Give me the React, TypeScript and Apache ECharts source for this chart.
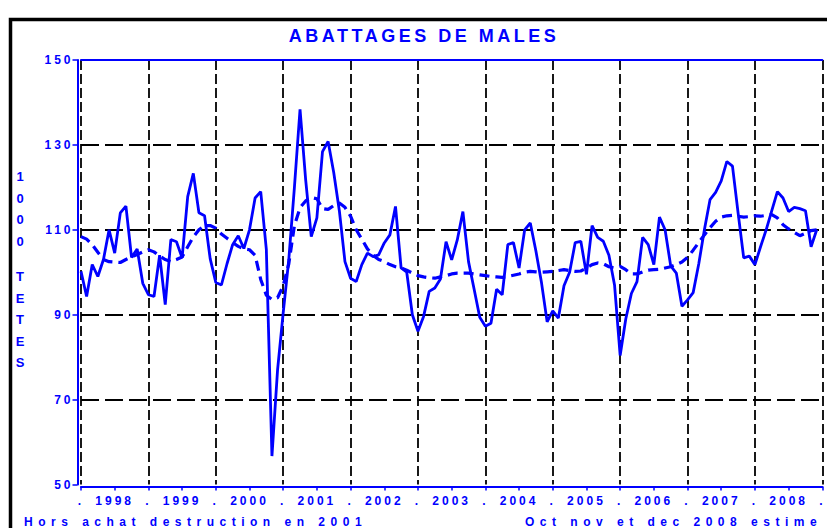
import React, { useEffect, useRef } from "react";
import * as echarts from "echarts";

// Tick labels
const years = ["1998", "1999", "2000", "2001", "2002", "2003", "2004", "2005", "2006", "2007", "2008"];
const yMin = 50;
const yMax = 150;
const yStep = 20;

// Texts
const titleText = "ABATTAGES DE MALES";
const yNameTop = "1\n0\n0\n0";
const yNameBottom = "T\nE\nT\nE\nS";
const noteLeft = "Hors achat destruction en 2001";
const noteRight = "Oct nov et dec 2008 estime";

// Monthly slaughter (1000 head), Jan 1998 .. Dec 2008
const monthly1998 = [100.2, 94.3, 101.8, 99, 103, 110, 104.5, 114, 115.6, 103.5, 105.5, 97.4];
const monthly1999 = [94.7, 94.3, 104, 92.4, 107.7, 107.2, 103.4, 117.8, 123.3, 114, 113.3, 103.2];
const monthly2000 = [97.6, 97, 102, 106.5, 108.6, 105.6, 110, 117.5, 119, 105.4, 56.7, 77];
const monthly2001 = [90.4, 103, 120, 138.4, 121.8, 108.4, 112.8, 128.4, 130.8, 123.5, 114.5, 102.5];
const monthly2002 = [98.6, 97.8, 101.8, 104.5, 103.7, 104.1, 106.9, 108.8, 115.5, 101, 100, 90];
const monthly2003 = [86.1, 89.6, 95.5, 96.3, 98.4, 107.2, 102.9, 107.6, 114.3, 102.5, 96, 89.4];
const monthly2004 = [87.3, 88, 96, 94.7, 106.5, 107, 101, 110, 111.6, 105, 97.5, 88.3];
const monthly2005 = [90.9, 89.2, 96.8, 100, 107, 107.3, 99.5, 111, 108.2, 107.3, 104, 97];
const monthly2006 = [80.4, 89, 95, 97.8, 108.2, 106.5, 101.8, 113, 110, 101.5, 99.8, 92];
const monthly2007 = [93.5, 95.2, 102, 110, 117.1, 118.8, 121.5, 126.1, 125, 114, 103.4, 103.8];
const monthly2008 = [101.8, 106, 110, 114.5, 119, 117.5, 114.3, 115.3, 115, 114.5, 106, 110];

// Trend (dashed)
const trend1998 = [108.4, 107.8, 106.5, 104.7, 103, 102.5, 102.4, 102.3, 103, 103.6, 104.2, 104.8];
const trend1999 = [105.3, 104.8, 103.8, 103, 102.5, 103, 103.6, 106, 108.3, 110, 111, 111];
const trend2000 = [110.4, 109, 108, 107, 106.1, 105.5, 105.3, 104, 98.3, 94.6, 93.6, 94];
const trend2001 = [96.8, 102, 111, 115.2, 116.8, 117.6, 117.3, 115, 114.8, 115.7, 116.3, 115.3];
const trend2002 = [113.2, 110, 107.8, 105.5, 104, 103, 102.5, 101.8, 101.3, 101, 100.5, 99.8];
const trend2003 = [99.2, 98.9, 98.7, 98.6, 98.9, 99.2, 99.6, 99.8, 99.8, 99.8, 99.6, 99.4];
const trend2004 = [99.2, 99, 98.9, 98.8, 99, 99.3, 99.6, 100, 100.2, 100.1, 100, 100.1];
const trend2005 = [100.2, 100.4, 100.6, 100.4, 100.2, 100.3, 101, 101.8, 102.2, 102, 101.3, 101];
const trend2006 = [101.4, 100.6, 99.6, 99.6, 100.1, 100.5, 100.6, 100.7, 101, 101.3, 101.8, 102.4];
const trend2007 = [103.5, 105.2, 107, 108.8, 110.5, 112, 113, 113.3, 113.4, 113.2, 113, 113.1];
const trend2008 = [113.3, 113.2, 113.4, 113.6, 112.8, 111.2, 110.2, 109.4, 108.6, 109.2, 109.8, 110];

const monthly = [
  ...monthly1998, ...monthly1999, ...monthly2000, ...monthly2001, ...monthly2002, ...monthly2003,
  ...monthly2004, ...monthly2005, ...monthly2006, ...monthly2007, ...monthly2008,
];
const trend = [
  ...trend1998, ...trend1999, ...trend2000, ...trend2001, ...trend2002, ...trend2003,
  ...trend2004, ...trend2005, ...trend2006, ...trend2007, ...trend2008,
];

const BLUE = "#0000ff";
const FONT = "'Liberation Sans', Arial, Helvetica, sans-serif";

export default function App() {
  const ref = useRef<HTMLDivElement>(null);

  useEffect(() => {
    if (!ref.current) return;
    const el = ref.current;
    const chart = echarts.init(el, null, { renderer: "svg" });
    const nMonths = years.length * 12;

    const labelStyle = {
      color: BLUE,
      fontWeight: "bold",
      fontSize: 12,
      fontFamily: FONT,
    };

    const option: any = {
      animation: false,
      grid: { left: 81, right: 1, top: 60, bottom: 43.5, containLabel: false },
      xAxis: [
        {
          type: "value",
          min: 0,
          max: nMonths,
          interval: 12,
          position: "bottom",
          offset: 2,
          axisLine: { show: true, onZero: false, lineStyle: { color: BLUE, width: 2 } },
          axisTick: { show: false },
          axisLabel: {
            ...labelStyle,
            margin: 8,
            showMinLabel: true,
            showMaxLabel: true,
            formatter: () => ".",
          },
          splitLine: {
            show: true,
            showMinLine: true,
            showMaxLine: true,
            lineStyle: { color: "#000", width: 1.8, type: [10, 4] },
          },
        },
        {
          type: "value",
          min: 0,
          max: nMonths,
          interval: 6,
          position: "bottom",
          offset: 2,
          axisLine: { show: false, onZero: false },
          axisTick: { show: true, length: 4, lineStyle: { color: BLUE, width: 1.5 } },
          axisLabel: {
            ...labelStyle,
            margin: 8,
            formatter: (v: number) => (v % 12 === 6 ? years[(v - 6) / 12] : ""),
          },
          splitLine: { show: false },
        },
        {
          type: "value",
          min: 0,
          max: nMonths,
          position: "top",
          axisLine: { show: true, onZero: false, lineStyle: { color: BLUE, width: 2 } },
          axisTick: { show: false },
          axisLabel: { show: false },
          splitLine: { show: false },
        },
      ],
      yAxis: {
        type: "value",
        min: yMin,
        max: yMax,
        interval: yStep,
        offset: 3.5,
        axisLine: { show: true, onZero: false, lineStyle: { color: BLUE, width: 2 } },
        axisTick: { show: true, length: 5, lineStyle: { color: BLUE, width: 1.5 } },
        axisLabel: { ...labelStyle, margin: 4 },
        splitLine: {
          show: true,
          showMinLine: false,
          showMaxLine: false,
          lineStyle: { color: "#000", width: 1.8, type: [18, 6] },
        },
      },
      series: [
        {
          name: "trend",
          type: "line",
          xAxisIndex: 0,
          data: trend.map((v, i) => [i, v]),
          showSymbol: false,
          symbol: "none",
          lineStyle: { color: BLUE, width: 3.2, type: [10, 6] },
          z: 3,
        },
        {
          name: "monthly",
          type: "line",
          xAxisIndex: 0,
          data: monthly.map((v, i) => [i, v]),
          showSymbol: false,
          symbol: "none",
          lineStyle: { color: BLUE, width: 2.8 },
          z: 4,
        },
      ],
      graphic: [
        {
          type: "rect",
          silent: true,
          z: -10,
          shape: { x: 10.5, y: 19.5, width: 900, height: 600 },
          style: { fill: "none", stroke: "#000", lineWidth: 3.5 },
        },
        {
          type: "text",
          x: 424,
          y: 36,
          style: {
            text: titleText,
            fill: BLUE,
            font: `bold 18px ${FONT}`,
            align: "center",
            verticalAlign: "middle",
          },
        },
        {
          type: "text",
          x: 20,
          y: 166,
          style: {
            text: yNameTop,
            fill: BLUE,
            font: `bold 13px ${FONT}`,
            align: "center",
            verticalAlign: "top",
            lineHeight: 21.5,
          },
        },
        {
          type: "text",
          x: 20,
          y: 266,
          style: {
            text: yNameBottom,
            fill: BLUE,
            font: `bold 13px ${FONT}`,
            align: "center",
            verticalAlign: "top",
            lineHeight: 21.5,
          },
        },
        {
          type: "text",
          x: 24,
          y: 516,
          style: {
            text: noteLeft,
            fill: BLUE,
            font: `bold 12px ${FONT}`,
            align: "left",
            verticalAlign: "top",
          },
        },
        {
          type: "text",
          x: 525,
          y: 516,
          style: {
            text: noteRight,
            fill: BLUE,
            font: `bold 12px ${FONT}`,
            align: "left",
            verticalAlign: "top",
          },
        },
      ],
    };

    const applySpacing = () => {
      el.querySelectorAll("text").forEach((t) => {
        const s = (t.textContent || "").trim();
        let sp = "";
        if (s === titleText) sp = "3.5";
        else if (s === noteLeft || s === noteRight) sp = "5.5";
        else if (/^\d{4}$/.test(s) || s === ".") sp = "3";
        else if (/^\d{2,3}$/.test(s)) sp = "3";
        if (sp) t.setAttribute("letter-spacing", sp);
      });
    };

    chart.on("finished", applySpacing);
    chart.setOption(option);
    applySpacing();
    const raf = requestAnimationFrame(applySpacing);

    return () => {
      cancelAnimationFrame(raf);
      chart.dispose();
    };
  }, []);

  return (
    <div
      style={{
        position: "fixed",
        left: 0,
        top: 0,
        width: 827,
        height: 528,
        overflow: "hidden",
        background: "#fff",
      }}
    >
      <div ref={ref} style={{ width: 827, height: 528 }} />
    </div>
  );
}
